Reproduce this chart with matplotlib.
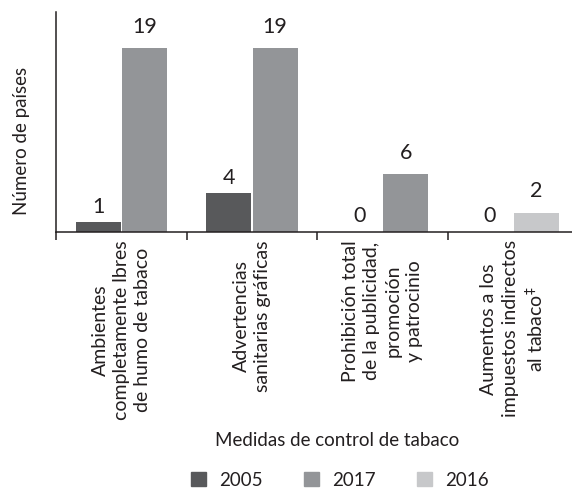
import matplotlib
matplotlib.use('Agg')
import matplotlib.pyplot as plt
from matplotlib.patches import Patch
import numpy as np

plt.rcParams['font.family'] = ['Lato', 'DejaVu Sans']

categorias = ['Ambientes\ncompletamente lbres\nde humo de tabaco',
              'Advertencias\nsanitarias gráficas',
              'Prohibición total\nde la publicidad,\npromoción\ny patrocinio',
              'Aumentos a los\nimpuestos indirectos\nal tabaco$^{\\ddag}$']
valores_2005 = [1, 4, 0, 0]
valores_2017 = [19, 19, 6, None]
valores_2016 = [None, None, None, 2]

c2005 = '#58595b'
c2017 = '#939598'
c2016 = '#c7c8ca'
ctext = '#231f20'

fig = plt.figure(figsize=(5.72, 4.88), dpi=100)
ax = fig.add_axes([56/572, 1-232/488, 1-56/572, 220/488])

x = np.arange(len(categorias))
w = 0.345
off = 0.178

for i in x:
    v = valores_2005[i]
    ax.bar(i - off, v, w, color=c2005)
    ax.text(i - off, v + 1.6, str(v), ha='center', va='center', fontsize=15.5, color=ctext)
    if valores_2017[i] is not None:
        v = valores_2017[i]
        ax.bar(i + off, v, w, color=c2017)
        ax.text(i + off, v + 2.2, str(v), ha='center', va='center', fontsize=15.5, color=ctext)
    if valores_2016[i] is not None:
        v = valores_2016[i]
        ax.bar(i + off, v, w, color=c2016)
        ax.text(i + off, v + 2.2, str(v), ha='center', va='center', fontsize=15.5, color=ctext)

ax.set_xlim(-0.5, 3.45)
ax.set_ylim(0, 22.7)
ax.set_yticks([])
for s in ['top', 'right']:
    ax.spines[s].set_visible(False)
for s in ['left', 'bottom']:
    ax.spines[s].set_color(ctext)
    ax.spines[s].set_linewidth(1.1)

ax.set_xticks([-0.5, 0.5, 1.5, 2.5])
ax.set_xticklabels([])
ax.tick_params(axis='x', which='major', length=6, width=1.1, color=ctext)
ax.set_xticks(x, categorias, minor=True)
ax.tick_params(axis='x', which='minor', length=0, pad=6, labelsize=14,
               labelcolor=ctext, rotation=90)
for t in ax.get_xticklabels(minor=True):
    t.set_multialignment('center')
    t.set_linespacing(1.3)

fig.text(22/572, 1-141/488, 'Número de países', rotation=90, ha='center', va='center',
         fontsize=13.5, color=ctext)
fig.text(337/572, 1-441/488, 'Medidas de control de tabaco', ha='center', va='center',
         fontsize=13.5, color=ctext)

handles = [Patch(color=c2005, label='2005'), Patch(color=c2017, label='2017'),
           Patch(color=c2016, label='2016')]
fig.legend(handles=handles, ncol=3, loc='center', bbox_to_anchor=(340/572, 1-480/488),
           frameon=False, fontsize=13.5, handlelength=0.8, handleheight=0.8,
           columnspacing=2.2, handletextpad=0.7, labelcolor=ctext)

fig.savefig('out.png', dpi=100)
